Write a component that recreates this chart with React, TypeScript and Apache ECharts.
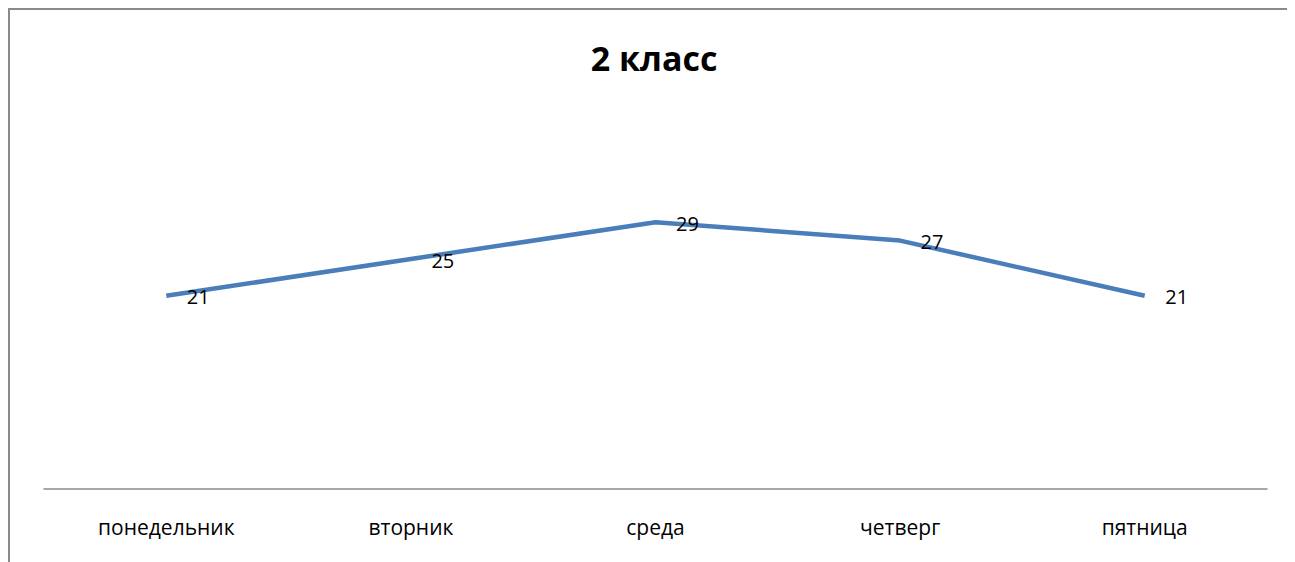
import React, { useEffect, useRef } from "react";
import * as echarts from "echarts";

const categories = ["понедельник", "вторник", "среда", "четверг", "пятница"];
const values = [21, 25, 29, 27, 21];
const title = "2 класс";

export default function App() {
  const ref = useRef<HTMLDivElement>(null);
  useEffect(() => {
    if (!ref.current) return;
    const chart = echarts.init(ref.current, undefined, { renderer: "svg" });
    chart.setOption({
      animation: false,
      backgroundColor: "#ffffff",
      title: {
        text: title,
        left: "center",
        top: 26,
        textStyle: {
          fontFamily: "Open Sans",
          fontWeight: "bold",
          fontSize: 34,
          color: "#000000",
        },
      },
      grid: { left: 34, top: 157, width: 1223, height: 322 },
      xAxis: {
        type: "category",
        data: categories,
        boundaryGap: true,
        axisLine: { lineStyle: { color: "#8a8a8a", width: 1.5 } },
        axisTick: { show: false },
        axisLabel: {
          margin: 27,
          fontFamily: "Open Sans",
          fontSize: 21,
          color: "#000000",
        },
      },
      yAxis: {
        type: "value",
        min: 0,
        max: 35,
        interval: 5,
        show: false,
        splitLine: { show: false },
      },
      series: [
        {
          type: "line",
          data: values,
          symbol: "circle",
          symbolSize: 1,
          showSymbol: true,
          itemStyle: { color: "rgba(74,126,187,0)", borderWidth: 0 },
          lineStyle: { color: "#4a7ebb", width: 4.5 },
          label: {
            show: true,
            position: "right",
            distance: 20,
            offset: [0, 1],
            fontFamily: "Open Sans",
            fontSize: 20,
            color: "#000000",
          },
        },
      ],
    });
    return () => chart.dispose();
  }, []);
  return (
    <div style={{ width: 1287, height: 554, overflow: "hidden" }}>
      <div
        style={{
          width: 1400,
          height: 700,
          borderTop: "2px solid #8a8a8a",
          borderLeft: "2px solid #8a8a8a",
          boxSizing: "border-box",
        }}
      >
        <div ref={ref} style={{ width: 1288, height: 560 }} />
      </div>
    </div>
  );
}
